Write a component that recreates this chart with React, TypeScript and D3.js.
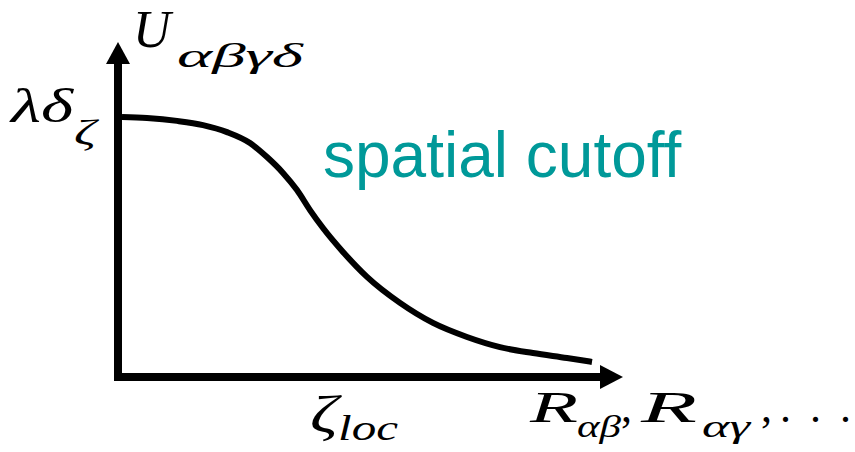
import React from "react";
import * as d3 from "d3";

const curveX = [0.08, 0.58, 1.18, 1.7, 2.18, 2.64, 2.98, 3.3, 3.58, 3.84, 4.1, 4.5, 4.98, 5.64, 6.3, 6.98, 7.64, 8.3, 8.98, 9.48];
const curveY = [1.0, 0.996, 0.985, 0.969, 0.942, 0.9, 0.846, 0.785, 0.719, 0.642, 0.573, 0.481, 0.385, 0.285, 0.208, 0.154, 0.115, 0.092, 0.073, 0.058];

const W = 855;
const H = 452;

export default function App() {
  const x = d3.scaleLinear().domain([0, 10]).range([118, 618]);
  const y = d3.scaleLinear().domain([0, 1]).range([377, 117]);
  const pts: [number, number][] = curveX.map((v, i) => [v, curveY[i]]);
  const line = d3
    .line<[number, number]>()
    .x((d) => x(d[0]))
    .y((d) => y(d[1]))
    .curve(d3.curveMonotoneX);

  const x0 = x(0);
  const y0 = y(0);
  const serif = "'Liberation Serif', 'Times New Roman', serif";
  const T = (props: any) => (
    <text
      fontFamily={serif}
      fontStyle="italic"
      lengthAdjust="spacingAndGlyphs"
      {...props}
    />
  );

  return (
    <svg
      width={W}
      height={H}
      style={{ position: "absolute", left: 0, top: 0, background: "#fff" }}
    >
      {/* y axis */}
      <line x1={x0} y1={y0 + 4} x2={x0} y2={62} stroke="#000" strokeWidth={8} />
      <path d={`M${x0},42 L${x0 - 12},64 L${x0 + 12},64 Z`} fill="#000" />
      {/* x axis */}
      <line x1={x0 - 4} y1={y0} x2={601} y2={y0} stroke="#000" strokeWidth={8} />
      <path d={`M623,${y0} L600,${y0 - 12} L600,${y0 + 12} Z`} fill="#000" />
      {/* curve */}
      <path d={line(pts) || ""} fill="none" stroke="#000" strokeWidth={6} />

      {/* y label */}
      <T x={133} y={47} fontSize={52}>U</T>
      <T x={177} y={67} fontSize={34} textLength={126}>αβγδ</T>
      {/* y value label */}
      <T x={11} y={122} fontSize={48} textLength={62}>λδ</T>
      <T x={74} y={145} fontSize={36} textLength={22}>ζ</T>
      {/* x position label */}
      <T x={310} y={432} fontSize={52} textLength={28}>ζ</T>
      <T x={338} y={440} fontSize={36} textLength={60}>loc</T>
      {/* x label */}
      <T x={530} y={422} fontSize={44} textLength={48}>R</T>
      <T x={577} y={437} fontSize={32} textLength={44}>αβ</T>
      <T x={621} y={422} fontSize={44} fontStyle="normal">,</T>
      <T x={641} y={422} fontSize={44} textLength={56}>R</T>
      <T x={702} y={437} fontSize={32} textLength={48}>αγ</T>
      <T x={761} y={422} fontSize={44} fontStyle="normal">,</T>
      <T x={780} y={422} fontSize={44} fontStyle="normal">.</T>
      <T x={810} y={422} fontSize={44} fontStyle="normal">.</T>
      <T x={840} y={422} fontSize={44} fontStyle="normal">.</T>

      <text
        x={323}
        y={177}
        fontFamily="'Liberation Sans', Arial, sans-serif"
        fontSize={64}
        fill="#009999"
      >
        spatial cutoff
      </text>
    </svg>
  );
}
